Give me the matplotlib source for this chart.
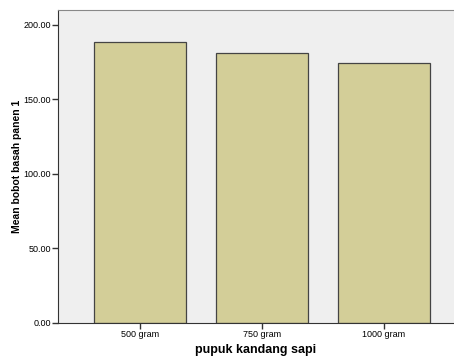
import numpy as np
import matplotlib.pyplot as plt

categories = ['500 gram', '750 gram', '1000 gram']
means = [188.3, 181.3, 174.4]
yticks = [0, 50, 100, 150, 200]

fig = plt.figure(figsize=(4.54, 3.58), dpi=100)
ax = fig.add_axes([58/454, 35/358, 1 - 58/454, 313/358])
ax.set_facecolor('#efefef')

x = np.arange(len(categories))
ax.bar(x, means, width=0.75, color='#d3ce98', edgecolor='#444444', linewidth=0.9, zorder=2)

ax.set_xlim(-0.672, 2.574)
ax.set_ylim(0, 210)
ax.set_xticks(x)
ax.set_xticklabels(categories, fontsize=6.5, family='Liberation Sans')
ax.set_yticks(yticks)
ax.set_yticklabels([f'{v:.2f}' for v in yticks], fontsize=6.5, family='Liberation Sans')
ax.tick_params(axis='both', length=4, width=1, color='#333333', pad=1)

ax.spines['left'].set_color('#333333')
ax.spines['bottom'].set_color('#333333')
ax.spines['top'].set_color('#888888')
ax.spines['right'].set_visible(False)

ax.set_xlabel('pupuk kandang sapi', fontsize=9, fontweight='bold', family='Liberation Sans', labelpad=4)
ax.set_ylabel('Mean bobot basah panen 1', fontsize=7.5, fontweight='bold', family='Liberation Sans', labelpad=1)

fig.savefig('out.png', dpi=100)
